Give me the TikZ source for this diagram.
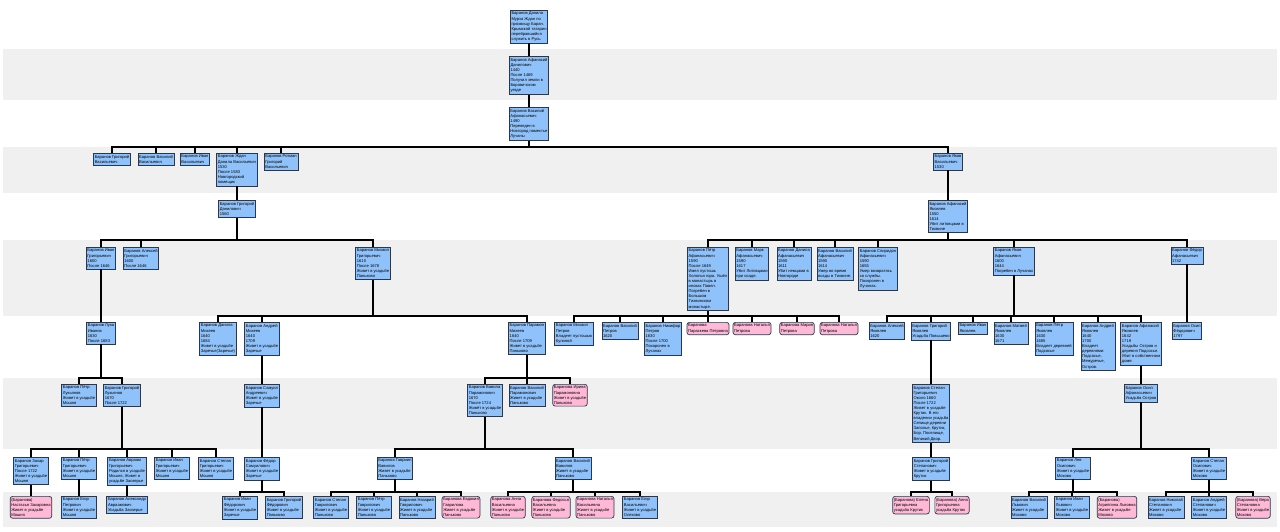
\documentclass[tikz,border=0pt]{standalone}
\usepackage{fontspec}
\newfontfamily\boxfont{Liberation Sans}
\usepackage {tikz}
\definecolor{manblue}{RGB}{143,194,250}
\definecolor{womanpink}{RGB}{255,184,214}
\definecolor{boxline}{RGB}{45,55,75}
\definecolor{bandgrey}{RGB}{240,240,240}
\tikzset{edge/.style = {line width=1.7pt}}

\begin{document}
\begin{tikzpicture}[x=1pt, y=-1pt, man node/.style={draw=boxline,fill=manblue,line width=0.7pt,inner xsep=1.2pt,inner ysep=1.8pt,align=left,anchor=north,font={\boxfont\fontsize{4.1}{5.1}\selectfont}}, woman node/.style={man node,fill=womanpink,rounded corners=2.5pt}]
            \useasboundingbox (0,0) rectangle (1280,531);
            \fill[bandgrey] (3,49) rectangle (1277,100);
            \fill[bandgrey] (3,147) rectangle (1277,193);
            \fill[bandgrey] (3,240) rectangle (1277,316);
            \fill[bandgrey] (3,378) rectangle (1277,449);
            \fill[bandgrey] (3,492) rectangle (1277,527);

            \node[man node] (1) at (529,10) {Баранов Данила\\Мурза Ждан по\\прозвищу Баран.\\Крымской татарин\\перебравшийся\\служить в Русь.};
            \node[man node] (2) at (529,56) {Баранов Афанасий\\Данилович\\1440\\После 1469\\Получил земли в\\Боровичском\\уезде};
            \node[man node] (3) at (529,107) {Баранов Василий\\Афанасьевич\\1490\\Переведен в\\Новгород поместье\\Лучаны};

            \node[man node] (4) at (112,153) {Баранов Григорий\\Васильевич};
            \node[man node] (5) at (156,153) {Баранов Василий\\Васильевич};
            \node[man node] (6) at (195,153) {Баранов Иван\\Васильевич};
            \node[man node] (7) at (237,153) {Баранов Ждан\\Данила Васильевич\\1530\\После 1583\\Новгородский\\помещик};
            \node[man node] (8) at (281,153) {Баранов Ротман\\Григорий\\Васильевич};
            \node[man node] (9) at (948,153) {Баранов Яков\\Васильевич\\1530};

            \node[man node] (10) at (237,200) {Баранов Григорий\\Данилович\\1560};
            \node[man node] (11) at (948,200) {Баранов Афанасий\\Яковлев\\1550\\1614\\Убит литовцами в\\Тихвине};

            \node[man node] (12) at (101,247) {Баранов Иван\\Григорьевич\\1600\\После 1646};
            \node[man node] (13) at (141,247) {Баранов Алексей\\Григорьевич\\1600\\После 1646};
            \node[man node] (14) at (373,247) {Баранов Михаил\\Григорьевич\\1610\\После 1678\\Живет в усадьбе\\Паньково};
            \node[man node] (15) at (708,247) {Баранов Пётр\\Афанасьевич\\1590\\После 1649\\Имел пустошь\\Холопья гора. Ушёл\\в монастырь в\\иноках Павел.\\Погребен в\\Большом\\Тихвинском\\монастыре.};
            \node[man node] (16) at (752,247) {Баранов Марк\\Афанасьевич\\1590\\1617\\Убит Литовцами\\при осаде.};
            \node[man node] (17) at (794,247) {Баранов Данила\\Афанасьевич\\1590\\1611\\Убит немцами в\\Новгороде};
            \node[man node] (18) at (835,247) {Баранов Василий\\Афанасьевич\\1590\\1614\\Умер во время\\осады в Тихвине.};
            \node[man node] (19) at (878,247) {Баранов Спиридон\\Афанасьевич\\1590\\1655\\Умер возвратясь\\со службы.\\Похоронен в\\Лучанах.};
            \node[man node] (20) at (1014,247) {Баранов Яков\\Афанасьевич\\1600\\1644\\Погребен в Лучанах};
            \node[man node] (21) at (1187,247) {Баранов Фёдор\\Афанасьевич\\1742};

            \node[man node] (22) at (101,322) {Баранов Лука\\Иванов\\1630\\После 1683};
            \node[man node] (23) at (218,322) {Баранов Данила\\Михеев\\1640\\1684\\Живет в усадьбе\\Заречье(Заречье)};
            \node[man node] (24) at (262,322) {Баранов Андрей\\Михеев\\1640\\1709\\Живет в усадьбе\\Заречье};
            \node[man node] (25) at (527,322) {Баранов Парамон\\Михеев\\1640\\После 1709\\Живет в усадьбе\\Паньково};
            \node[man node] (26) at (574,322) {Баранов Михаил\\Петров\\Владеет пустошью\\Кулиной};
            \node[man node] (27) at (620,322) {Баранов Василий\\Петров\\1620};
            \node[man node] (28) at (663,322) {Баранов Никифор\\Петров\\1630\\После 1700\\Похоронен в\\Лучанах};
            \node[woman node] (29) at (708,322) {Баранова\\Параскева Петровна};
            \node[woman node] (30) at (752,322) {Баранова Наталья\\Петрова};
            \node[woman node] (31) at (797,322) {Баранова Мария\\Петрова};
            \node[woman node] (32) at (839,322) {Баранова Наталья\\Петрова};
            \node[man node] (33) at (887,322) {Баранов Алексей\\Яковлев\\1620};
            \node[man node] (34) at (931,322) {Баранов Григорий\\Яковлев\\Усадьба Повышево};
            \node[man node] (35) at (973,322) {Баранов Иван\\Яковлев};
            \node[man node] (36) at (1011,322) {Баранов Матвей\\Яковлев\\1630\\1671};
            \node[man node] (37) at (1054,322) {Баранов Пётр\\Яковлев\\1630\\1685\\Владеет деревней\\Подсосье};
            \node[man node] (38) at (1098,322) {Баранов Андрей\\Яковлев\\1640\\1700\\Владеет\\деревнями:\\Подсосье,\\Межуречье,\\Остров.};
            \node[man node] (39) at (1141,322) {Баранов Афанасий\\Яковлев\\1642\\1719\\Усадьбы Остров и\\деревня Подсосье.\\Убит в собственном\\доме.};
            \node[man node] (40) at (1187,322) {Баранов Осип\\Фёдорович\\1797};

            \node[man node] (41) at (79,384) {Баранов Пётр\\Лукьянов\\Живет в усадьбе\\Мошня};
            \node[man node] (42) at (122,384) {Баранов Григорий\\Лукьянов\\1670\\После 1722};
            \node[man node] (43) at (262,384) {Баранов Самуил\\Андреевич\\Живет в усадьбе\\Заречье};
            \node[man node] (44) at (485,384) {Баранов Вавила\\Парамонович\\1670\\После 1724\\Живёт в усадьбе\\Паньково};
            \node[man node] (45) at (527,384) {Баранов Василий\\Парамонович\\Живет в усадьбе\\Паньково};
            \node[woman node] (46) at (570,384) {Баранова Ирина\\Парамоновна\\Живет в усадьбе\\Паньково};
            \node[man node] (47) at (931,384) {Баранов Степан\\Григорьевич\\Около 1660\\После 1722\\Живет в усадьбе\\Крутик. В его\\владении усадьба\\Селище,деревни\\Заполье, Крутик,\\Бор, Поселище,\\Великий Двор.};
            \node[man node] (48) at (1141,384) {Баранов Осип\\Афанасьевич\\Усадьба Остров};

            \node[man node] (49) at (31,457) {Баранов Захар\\Григорьевич\\После 1722\\Живет в усадьбе\\Мошня};
            \node[man node] (50) at (79,457) {Баранов Пётр\\Григорьевич\\Живет в усадьбе\\Мошня};
            \node[man node] (51) at (127,457) {Баранов Авраам\\Григорьевич\\Родился в усадьбе\\Мошня, Живет в\\усадьбе Заозерье};
            \node[man node] (52) at (172,457) {Баранов Иван\\Григорьевич\\Живет в усадьбе\\Мошня};
            \node[man node] (53) at (216,457) {Баранов Степан\\Григорьевич\\Живет в усадьбе\\Мошня};
            \node[man node] (54) at (262,457) {Баранов Фёдор\\Самуилович\\Живет в усадьбе\\Заречье};
            \node[man node] (55) at (395,457) {Баранов Гавриил\\Вавилов\\Живет в усадьбе\\Паньково};
            \node[man node] (56) at (573,457) {Баранов Василий\\Вавилов\\Живет в усадьбе\\Паньково};
            \node[man node] (57) at (931,457) {Баранов Григорий\\Степанович\\Живет в усадьбе\\Крутик};
            \node[man node] (58) at (1073,457) {Баранов Лев\\Осипович\\Живет в усадьбе\\Мохово};
            \node[man node] (59) at (1209,457) {Баранов Степан\\Осипович\\Живет в усадьбе\\Мохово};

            \node[woman node] (60) at (31,496) {(Баранова)\\Настасья Захаровна\\Живет в усадьбе\\Мошня};
            \node[man node] (61) at (79,496) {Баранов Егор\\Петрович\\Живет в усадьбе\\Мошня};
            \node[man node] (62) at (127,496) {Баранов Александр\\Авраамович\\Усадьба Заозерье};
            \node[man node] (63) at (240,496) {Баранов Иван\\Фёдорович\\Живет в усадьбе\\Заречье};
            \node[man node] (64) at (284,496) {Баранов Григорий\\Фёдорович\\Живет в усадьбе\\Паньково};
            \node[man node] (65) at (331,496) {Баранов Степан\\Гаврилович\\Живет в усадьбе\\Паньково};
            \node[man node] (66) at (374,496) {Баранов Пётр\\Гаврилович\\Живет в усадьбе\\Паньково};
            \node[man node] (67) at (417,496) {Баранов Назарий\\Гаврилович\\Живет в усадьбе\\Паньково};
            \node[woman node] (68) at (461,496) {Баранова Евдокия\\Гаврилова\\Живет в усадьбе\\Паньково};
            \node[woman node] (69) at (508,496) {Баранова Анна\\Васильевна\\Живет в усадьбе\\Паньково};
            \node[woman node] (70) at (551,496) {Баранова Федосья\\Васильевна\\Живет в усадьбе\\Паньково};
            \node[woman node] (71) at (595,496) {Баранова Наталья\\Васильевна\\Живет в усадьбе\\Паньково};
            \node[man node] (72) at (640,496) {Баранов Егор\\Васильевич\\Живет в усадьбе\\Олехово};
            \node[woman node] (73) at (911,496) {(Баранова) Елена\\Григорьевна\\усадьба Крутик};
            \node[woman node] (74) at (952,496) {(Баранова) Анна\\Григорьевна\\усадьба Крутик};
            \node[man node] (75) at (1029,496) {Баранов Василий\\Львович\\Живет в усадьбе\\Мохово};
            \node[man node] (76) at (1072,496) {Баранов Иван\\Львович\\Живет в усадьбе\\Мохово};
            \node[woman node] (77) at (1117,496) {(Баранова)\\Агриппина Львовна\\Живет в усадьбе\\Мохово};
            \node[man node] (78) at (1166,496) {Баранов Николай\\Степанович\\Живет в усадьбе\\Мохово};
            \node[man node] (79) at (1209,496) {Баранов Андрей\\Степанович\\Живет в усадьбе\\Мохово};
            \node[woman node] (80) at (1253,496) {(Баранова) Вера\\Степановна\\Живет в усадьбе\\Мохово};

            \draw[edge] (1.south) -- (2.north) (2.south) -- (3.north);
            \draw[edge] (4.north) |- (9 |- 0,147) -- (9.north) (3.south) -- (3 |- 0,147) (5.north) -- (5 |- 0,147) (6.north) -- (6 |- 0,147) (7.north) -- (7 |- 0,147) (8.north) -- (8 |- 0,147);
            \draw[edge] (7.south) -- (10.north) (9.south) -- (11.north);
            \draw[edge] (12.north) |- (14 |- 0,240) -- (14.north) (10.south) -- (10 |- 0,240) (13.north) -- (13 |- 0,240);
            \draw[edge] (15.north) |- (21 |- 0,240) -- (21.north) (11.south) -- (11 |- 0,240) (16.north) -- (16 |- 0,240) (17.north) -- (17 |- 0,240) (18.north) -- (18 |- 0,240) (19.north) -- (19 |- 0,240) (20.north) -- (20 |- 0,240);
            \draw[edge] (12.south) -- (22.north) (21.south) -- (40.north);
            \draw[edge] (23.north) |- (25 |- 0,316) -- (25.north) (14.south) -- (14 |- 0,316) (24.north) -- (24 |- 0,316);
            \draw[edge] (26.north) |- (32 |- 0,316) -- (32.north) (15.south) -- (15 |- 0,316) (27.north) -- (27 |- 0,316) (28.north) -- (28 |- 0,316) (29.north) -- (29 |- 0,316) (30.north) -- (30 |- 0,316) (31.north) -- (31 |- 0,316);
            \draw[edge] (33.north) |- (39 |- 0,316) -- (39.north) (20.south) -- (20 |- 0,316) (34.north) -- (34 |- 0,316) (35.north) -- (35 |- 0,316) (36.north) -- (36 |- 0,316) (37.north) -- (37 |- 0,316) (38.north) -- (38 |- 0,316);
            \draw[edge] (41.north) |- (42 |- 0,378) -- (42.north) (22.south) -- (22 |- 0,378);
            \draw[edge] (44.north) |- (46 |- 0,378) -- (46.north) (25.south) -- (25 |- 0,378) (45.north) -- (45 |- 0,378);
            \draw[edge] (24.south) -- (43.north) (34.south) -- (47.north) (39.south) -- (48.north);
            \draw[edge] (49.north) |- (53 |- 0,449) -- (53.north) (42.south) -- (42 |- 0,449) (50.north) -- (50 |- 0,449) (51.north) -- (51 |- 0,449) (52.north) -- (52 |- 0,449);
            \draw[edge] (55.north) |- (56 |- 0,449) -- (56.north) (44.south) -- (44 |- 0,449);
            \draw[edge] (58.north) |- (59 |- 0,449) -- (59.north) (48.south) -- (48 |- 0,449);
            \draw[edge] (43.south) -- (54.north) (47.south) -- (57.north);
            \draw[edge] (49.south) -- (60.north) (50.south) -- (61.north) (51.south) -- (62.north);
            \draw[edge] (63.north) |- (64 |- 0,492) -- (64.north) (54.south) -- (54 |- 0,492);
            \draw[edge] (65.north) |- (68 |- 0,492) -- (68.north) (55.south) -- (55 |- 0,492) (66.north) -- (66 |- 0,492) (67.north) -- (67 |- 0,492);
            \draw[edge] (69.north) |- (72 |- 0,492) -- (72.north) (56.south) -- (56 |- 0,492) (70.north) -- (70 |- 0,492) (71.north) -- (71 |- 0,492);
            \draw[edge] (73.north) |- (74 |- 0,492) -- (74.north) (57.south) -- (57 |- 0,492);
            \draw[edge] (75.north) |- (77 |- 0,492) -- (77.north) (58.south) -- (58 |- 0,492) (76.north) -- (76 |- 0,492);
            \draw[edge] (78.north) |- (80 |- 0,492) -- (80.north) (59.south) -- (59 |- 0,492) (79.north) -- (79 |- 0,492);
        \end{tikzpicture}
\end{document}
